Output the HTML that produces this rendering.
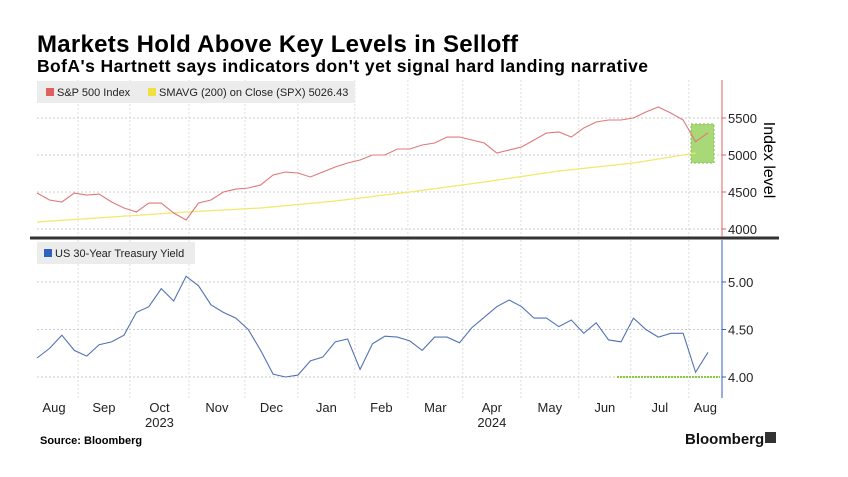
<!DOCTYPE html>
<html><head><meta charset="utf-8"><style>
body{margin:0;background:#fff;width:848px;height:472px;overflow:hidden;font-family:"Liberation Sans",sans-serif}
svg text{font-family:"Liberation Sans","DejaVu Sans",sans-serif}
</style></head><body>
<svg id="c" width="848" height="472">
<text x="37" y="52" font-size="24" font-weight="bold" fill="#000" textLength="481">Markets Hold Above Key Levels in Selloff</text>
<text x="37" y="72" font-size="17.5" font-weight="bold" fill="#000" textLength="611">BofA's Hartnett says indicators don't yet signal hard landing narrative</text>
<g id="grid"></g>
<rect x="37" y="81" width="318" height="22" fill="#ececec"/>
<rect x="46" y="88" width="8" height="8" fill="#e06060"/>
<text x="57" y="96" font-size="11" fill="#222">S&amp;P 500 Index</text>
<rect x="148" y="88" width="8" height="8" fill="#f0e040"/>
<text x="159" y="96" font-size="11" fill="#222">SMAVG (200)  on Close (SPX) 5026.43</text>
<rect x="37" y="242" width="158" height="22" fill="#ececec"/>
<rect x="44" y="249" width="8" height="8" fill="#3060c0"/>
<text x="55" y="257" font-size="11" fill="#222">US 30-Year Treasury Yield</text>
<rect x="691" y="124" width="23" height="39" fill="#a8d878" stroke="#7cc040" stroke-dasharray="2,2"/>
<g id="marks"></g>
<line x1="30" y1="238" x2="779" y2="238" stroke="#333" stroke-width="3"/>
<line x1="722" y1="80" x2="722" y2="237" stroke="#e06060" stroke-width="1"/>
<line x1="722" y1="240" x2="722" y2="398" stroke="#3060c0" stroke-width="1"/>
<text transform="translate(764,160) rotate(90)" text-anchor="middle" font-size="16" fill="#000">Index level</text>
<text x="40" y="444" font-size="11" font-weight="bold" fill="#000">Source: Bloomberg</text>
<text x="685" y="444" font-size="15" font-weight="bold" fill="#111">Bloomberg</text>
<rect x="765" y="432" width="11" height="11" fill="#333"/>
</svg>
<script>
const spxValues=[4486,4392,4365,4486,4459,4472,4365,4284,4230,4351,4351,4216,4122,4351,4392,4500,4540,4554,4595,4730,4770,4757,4703,4770,4838,4892,4932,5000,5000,5081,5081,5135,5162,5243,5243,5203,5162,5027,5068,5108,5203,5297,5311,5243,5365,5446,5473,5473,5500,5581,5649,5568,5473,5180,5300];
const yieldValues=[4.20,4.30,4.44,4.28,4.22,4.34,4.37,4.44,4.68,4.74,4.93,4.80,5.06,4.96,4.76,4.68,4.62,4.50,4.28,4.03,4.00,4.02,4.17,4.21,4.37,4.40,4.08,4.35,4.43,4.42,4.38,4.28,4.42,4.42,4.36,4.52,4.63,4.74,4.81,4.74,4.62,4.62,4.53,4.60,4.46,4.57,4.39,4.37,4.62,4.50,4.42,4.46,4.46,4.05,4.26];
const smaIdx=[0,6,12,18,24,30,36,42,48,53];
const smaValues=[4095,4162,4230,4284,4378,4500,4635,4784,4892,5026];
const spxTicks=[4000,4500,5000,5500];
const yieldTicks=[4.00,4.50,5.00];
const monthBounds=[3.3,7.48,12.23,16.73,21.0,25.58,29.85,34.27,38.94,43.6,47.79,52.45];
const monthLabels=["Aug","Sep","Oct","Nov","Dec","Jan","Feb","Mar","Apr","May","Jun","Jul","Aug"];
const yearLabels=[{m:2,t:"2023"},{m:8,t:"2024"}];
const supportLevel=4.00;

const NS="http://www.w3.org/2000/svg";
const X=i=>37+i*(708-37)/54;
const Ys=v=>155-(v-5000)*37/500;
const Yy=v=>377-(v-4)*95;
function mk(p,tag,a){const e=document.createElementNS(NS,tag);for(const k in a)e.setAttribute(k,a[k]);p.appendChild(e);return e;}
const grid=document.getElementById('grid'),marks=document.getElementById('marks'),svg=document.getElementById('c');
monthBounds.forEach(b=>{
 const l=mk(grid,'line',{x1:X(b),x2:X(b),y1:80,y2:398,stroke:'#ddd','stroke-dasharray':'2,2'});
 
 
});
spxTicks.forEach(t=>{
 const l=mk(grid,'line',{x1:37,x2:722,y1:Ys(t),y2:Ys(t),stroke:'#ccc','stroke-dasharray':'2,2'});
 
 
 const k=mk(svg,'line',{x1:722,x2:726,y1:Ys(t),y2:Ys(t),stroke:'#e06060'});
 
 
 const tx=mk(svg,'text',{x:728,y:Ys(t)+5,'font-size':13,fill:'#222'});tx.textContent=t;
 
 
});
yieldTicks.forEach(t=>{
 const l=mk(grid,'line',{x1:37,x2:722,y1:Yy(t),y2:Yy(t),stroke:'#ccc','stroke-dasharray':'2,2'});
 
 
 const k=mk(svg,'line',{x1:722,x2:726,y1:Yy(t),y2:Yy(t),stroke:'#3060c0'});
 
 
 const tx=mk(svg,'text',{x:728,y:Yy(t)+5,'font-size':13,fill:'#222'});tx.textContent=t.toFixed(2);
 
 
});
const edges=[0].concat(monthBounds.map(b=>X(b))).concat([722]);edges[0]=30;
monthLabels.forEach((m,i)=>{
 const cx=(edges[i]+edges[i+1])/2;
 const t=mk(svg,'text',{x:cx,y:412,'text-anchor':'middle','font-size':13,fill:'#222'});t.textContent=m;
 
 
});
yearLabels.forEach(y=>{
 const cx=(edges[y.m]+edges[y.m+1])/2;
 const t=mk(svg,'text',{x:cx,y:427,'text-anchor':'middle','font-size':13,fill:'#222'});t.textContent=y.t;
 
 
});
const sma=mk(marks,'polyline',{points:smaIdx.map((i,k)=>X(i)+','+Ys(smaValues[k])).join(' '),fill:'none',stroke:'#f2e86a','stroke-width':1.2});


function line(vals,Y){return vals.map((v,i)=>X(i)+','+Y(v)).join(' ');}
const sp=mk(marks,'polyline',{points:line(spxValues,Ys),fill:'none',stroke:'#e07878','stroke-width':1.1});


const yl=mk(marks,'polyline',{points:line(yieldValues,Yy),fill:'none',stroke:'#5272b4','stroke-width':1.1});


const sup=mk(marks,'line',{x1:617,x2:720,y1:Yy(supportLevel),y2:Yy(supportLevel),stroke:'#8cc840','stroke-width':2,'stroke-dasharray':'2,1'});


</script>
</body></html>
